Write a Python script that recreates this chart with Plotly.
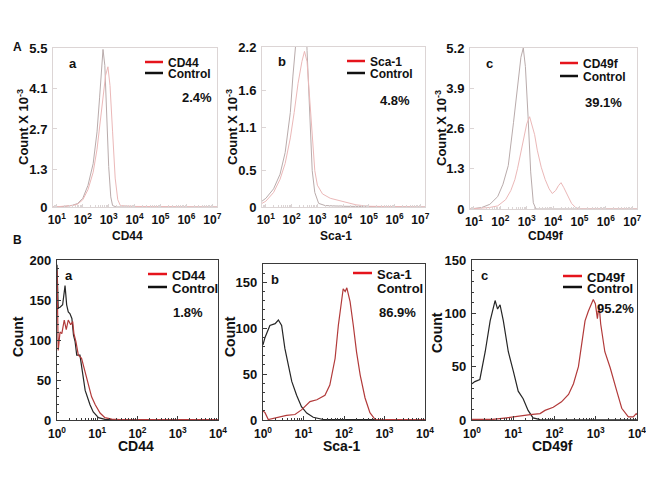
import plotly.graph_objects as go

# page is 654x485; the browser body adds an 8px margin, so the figure is drawn
# 8px in from the top-left and sized to fill the rest of the window
PAGE_OFF = 8
W, H = 654 - PAGE_OFF, 485 - PAGE_OFF

# ---------------- DATA (x as log10 of fluorescence, y as count) ----------------
# Row A (Count x 10^-3)
a1_ctrl_log = [0.85, 1.3, 1.6, 1.8, 2.0, 2.2, 2.4, 2.55, 2.65, 2.72, 2.78, 2.85, 2.92, 3.0, 3.08, 3.15, 3.3, 7.2]
a1_ctrl_cnt = [0, 0.02, 0.06, 0.12, 0.3, 0.75, 1.5, 2.6, 3.8, 4.8, 5.45, 4.9, 3.3, 1.4, 0.35, 0.05, 0, 0]
a1_samp_log = [0.85, 1.3, 1.6, 1.8, 2.0, 2.2, 2.4, 2.55, 2.67, 2.78, 2.88, 2.97, 3.05, 3.15, 3.25, 3.35, 3.45, 4.0, 7.2]
a1_samp_cnt = [0, 0.02, 0.05, 0.1, 0.25, 0.6, 1.2, 2.0, 3.0, 3.9, 4.55, 4.85, 4.2, 2.6, 1.0, 0.25, 0.05, 0.02, 0]

a2_ctrl_log = [0.85, 1.0, 1.3, 1.55, 1.75, 1.95, 2.05, 2.15, 2.3, 2.45, 2.52, 2.6, 2.7, 2.8, 2.9, 3.05, 3.3, 4.0, 7.2]
a2_ctrl_cnt = [0.08, 0.12, 0.25, 0.45, 0.75, 1.3, 1.8, 2.3, 2.8, 3.0, 2.9, 2.15, 1.2, 0.5, 0.2, 0.05, 0.02, 0.01, 0]
a2_samp_log = [0.85, 1.0, 1.3, 1.55, 1.75, 1.95, 2.1, 2.25, 2.4, 2.5, 2.6, 2.7, 2.8, 2.9, 3.0, 3.2, 3.5, 4.0, 4.5, 5.0, 7.2]
a2_samp_cnt = [0.05, 0.08, 0.2, 0.38, 0.6, 0.95, 1.3, 1.7, 2.0, 2.14, 2.0, 1.5, 0.9, 0.5, 0.3, 0.18, 0.12, 0.07, 0.03, 0.01, 0]

a3_ctrl_log = [0.85, 1.3, 1.6, 1.9, 2.1, 2.3, 2.5, 2.65, 2.78, 2.87, 2.95, 3.05, 3.15, 3.25, 3.35, 7.2]
a3_ctrl_cnt = [0, 0.05, 0.15, 0.4, 0.8, 1.4, 2.8, 4.0, 4.9, 5.2, 4.6, 3.0, 1.2, 0.2, 0, 0]
a3_samp_log = [0.85, 1.3, 1.6, 1.9, 2.2, 2.4, 2.55, 2.65, 2.8, 2.9, 3.0, 3.11, 3.2, 3.3, 3.4, 3.55, 3.7,
               3.85, 3.97, 4.1, 4.2, 4.3, 4.4, 4.55, 4.7, 4.85, 5.0, 7.2]
a3_samp_cnt = [0, 0.02, 0.05, 0.1, 0.3, 0.6, 0.95, 1.3, 1.9, 2.35, 2.75, 2.98, 2.7, 2.4, 1.9, 1.35, 0.95,
               0.65, 0.5, 0.6, 0.75, 0.85, 0.7, 0.42, 0.18, 0.05, 0.0, 0]

# Row B (Count)
b1_ctrl_log = [0, 0.03, 0.075, 0.14, 0.2, 0.24, 0.28, 0.32, 0.37, 0.41, 0.45, 0.49, 0.57, 0.65, 0.70,
               0.82, 0.90, 1.03, 1.19, 1.48, 2.0, 3.0, 4.0]
b1_ctrl_cnt = [194, 140, 141, 144, 168, 144, 135, 133, 127, 106, 98, 81, 81, 52, 37, 19, 10, 3, 0.8, 0.3,
               0.5, 0.4, 0.5]
b1_samp_log = [0, 0.03, 0.075, 0.12, 0.18, 0.23, 0.28, 0.34, 0.39, 0.42, 0.47, 0.53, 0.61, 0.70, 0.78,
               0.86, 0.95, 1.07, 1.19, 1.36, 1.57, 2.0, 3.0, 4.0]
b1_samp_cnt = [187, 87, 110, 108, 125, 113, 125, 119, 123, 108, 98, 81, 77, 60, 44, 29, 19, 8.7, 3, 1,
               0.5, 0.6, 0.5, 0.6]

b2_ctrl_log = [0, 0.05, 0.17, 0.3, 0.38, 0.46, 0.54, 0.63, 0.71, 0.83, 0.95, 1.08, 1.24, 1.49, 2.0, 3.0, 4.0]
b2_ctrl_cnt = [82, 90, 103, 105, 109, 103, 78, 60, 42, 27, 14.5, 7.6, 3, 0.5, 0.3, 0.3, 0.3]
b2_samp_log = [0, 0.05, 0.13, 0.34, 0.58, 0.79, 0.95, 1.16, 1.33, 1.53, 1.65, 1.78, 1.86, 1.98, 2.03, 2.07,
               2.15, 2.23, 2.31, 2.40, 2.52, 2.64, 2.77, 3.0, 3.5, 4.0]
b2_samp_cnt = [10, 8, 0.5, 3, 5, 6, 11, 20, 22, 27, 38, 67, 103, 143, 140, 144, 129, 103, 74, 49, 24, 8,
               0.5, 0.3, 0.3, 0.3]

b3_ctrl_log = [0, 0.07, 0.19, 0.32, 0.44, 0.56, 0.62, 0.68, 0.76, 0.88, 1.0, 1.12, 1.24, 1.36, 1.48, 1.65,
               2.0, 3.0, 4.0]
b3_ctrl_cnt = [34, 36, 38, 64, 93, 112, 104, 108, 93, 64, 46, 27, 20, 9, 2, 0.3, 0.2, 0.2, 0.2]
b3_samp_log = [0, 0.5, 0.84, 1.16, 1.41, 1.65, 1.77, 1.97, 2.17, 2.34, 2.46, 2.58, 2.66, 2.74, 2.82, 2.94,
               2.99, 3.04, 3.08, 3.12, 3.22, 3.35, 3.51, 3.63, 3.79, 3.91, 3.98, 4.0]
b3_samp_cnt = [0.5, 0.5, 2, 4, 5, 6, 9, 12, 17, 24, 34, 50, 71, 93, 102, 113, 109, 95, 108, 90, 64, 49,
               27, 11, 3, 3, 6, 5]

# Text content
markers_top = ["CD44", "Sca-1", "CD49f"]
pct_top = ["2.4%", "4.8%", "39.1%"]
pct_bot = ["1.8%", "86.9%", "95.2%"]
panel_letters = ["a", "b", "c"]
yticks_top = [[0, 1.3, 2.7, 4.1, 5.5], [0, 0.5, 1.1, 1.6, 2.2], [0, 1.3, 2.6, 3.9, 5.2]]
yticks_bot = [[0, 50, 100, 150, 200], [0, 50, 100, 150], [0, 50, 100, 150]]
top_exponents = [1, 2, 3, 4, 5, 6, 7]
bot_exponents = [0, 1, 2, 3, 4]

# ---------------- LAYOUT GEOMETRY (page pixels) ----------------
FONT = "Arial, Liberation Sans, sans-serif"
panels = [
    # (left, right, top, bottom, ymax, row, ytitle_x, ytitle_y)
    (53, 217, 48, 207, 5.5, "A", 23, 127),
    (262, 425, 47, 207, 2.2, "A", 232, 127),
    (470, 637, 48, 209, 5.2, "A", 441, 128),
    (57, 218, 260, 420, 200, "B", 18, 337),
    (263, 425, 264, 420, 170, "B", 230, 337),
    (472, 637, 260, 420, 150, "B", 437, 333),
]

def px(x):
    return (x - PAGE_OFF) / W

def py(y):
    return 1 - (y - PAGE_OFF) / H

def note(text, x, y, size, xanchor="center", angle=0):
    return dict(text=text, x=px(x), y=py(y), xref="paper", yref="paper", showarrow=False,
                xanchor=xanchor, yanchor="middle", textangle=angle,
                font=dict(family=FONT, size=size, color="#111"))

fig = go.Figure()

series = [
    (a1_ctrl_log, a1_ctrl_cnt, a1_samp_log, a1_samp_cnt),
    (a2_ctrl_log, a2_ctrl_cnt, a2_samp_log, a2_samp_cnt),
    (a3_ctrl_log, a3_ctrl_cnt, a3_samp_log, a3_samp_cnt),
    (b1_ctrl_log, b1_ctrl_cnt, b1_samp_log, b1_samp_cnt),
    (b2_ctrl_log, b2_ctrl_cnt, b2_samp_log, b2_samp_cnt),
    (b3_ctrl_log, b3_ctrl_cnt, b3_samp_log, b3_samp_cnt),
]

layout_axes = {}
annotations = []
shapes = []

for i, ((l, r, t, b, ymax, row, ytx, yty), (cl, cc, sl, sc)) in enumerate(zip(panels, series)):
    n = i + 1
    xa = "x" if n == 1 else f"x{n}"
    ya = "y" if n == 1 else f"y{n}"
    xkey = "xaxis" if n == 1 else f"xaxis{n}"
    ykey = "yaxis" if n == 1 else f"yaxis{n}"
    top = row == "A"
    if top:
        ctrl_color, samp_color, lw = "#b9abab", "#ebb8b8", 1
    else:
        ctrl_color, samp_color, lw = "#262626", "#b23a3a", 1.2
    fig.add_trace(go.Scatter(x=[10 ** v for v in cl], y=cc, mode="lines",
                             line=dict(color=ctrl_color, width=lw), xaxis=xa, yaxis=ya,
                             showlegend=False, hoverinfo="skip"))
    fig.add_trace(go.Scatter(x=[10 ** v for v in sl], y=sc, mode="lines",
                             line=dict(color=samp_color, width=lw), xaxis=xa, yaxis=ya,
                             showlegend=False, hoverinfo="skip"))

    exps = top_exponents if top else bot_exponents
    xrange = [0.85, 7.18] if top else [0, 4]
    minor_vals = [m * 10 ** k for k in range(exps[0] - 1, exps[-1] + 1) for m in range(2, 10)]
    axcol = "#dcd5d5" if top else "#3a3a3a"
    layout_axes[xkey] = dict(
        type="log", domain=[px(l), px(r)], range=xrange, anchor=ya, automargin=False,
        tickvals=[10 ** e for e in exps],
        ticktext=[f"10<sup>{e}</sup>" for e in exps],
        ticks="inside", ticklen=4 if not top else 3, tickcolor=axcol, tickwidth=1,
        minor=dict(ticks="inside", ticklen=2, tickcolor=axcol, tickvals=minor_vals),
        showline=True, linecolor=axcol, linewidth=1 if top else 1.3, mirror=True,
        showgrid=False, zeroline=False,
        tickfont=dict(family=FONT, size=12, color="#111", weight="bold"),
        ticklabelstandoff=2,
    )
    yax = dict(
        domain=[py(b), py(t)], range=[0, ymax], anchor=xa, automargin=False,
        tickvals=yticks_top[i] if top else yticks_bot[i - 3],
        ticks="inside", ticklen=4, tickcolor=axcol,
        showline=True, linecolor=axcol, linewidth=1 if top else 1.3, mirror=True,
        showgrid=False, zeroline=False,
        tickfont=dict(family=FONT, size=13, color="#111", weight="bold"),
        ticklabelstandoff=2,
    )
    if not top:
        yax["minor"] = dict(ticks="inside", ticklen=2, tickcolor=axcol, dtick=10)
    layout_axes[ykey] = yax

    name = markers_top[i % 3]
    annotations.append(note(f"<b>{name}</b>", (l + r) / 2 - (8 if top else 2),
                            236 if top else 446, 12 if top else 14))
    ytitle = "Count X 10<sup>-3</sup>" if top else "Count"
    annotations.append(note(f"<b>{ytitle}</b>", ytx, yty, 13 if top else 14, angle=-90))
    annotations.append(note(f"<b>{panel_letters[i % 3]}</b>", l + (20 if top else 12), t + 15, 13))

# legends (line swatches + labels) and percentages
leg_top = [  # (line_x0, line_x1, y_red, y_black, pct_x, pct_y)
    (145, 163, 62, 73, 197, 98),
    (347, 365, 61, 73, 395, 100),
    (560, 578, 63, 76, 603, 102),
]
leg_bot = [
    (148, 167, 274, 287, 188, 312),
    (353, 372, 273, 287, 397, 312),
    (563, 582, 276, 287, 615, 308),
]
for i, (x0, x1, yr, yb, pxx, pyy) in enumerate(leg_top + leg_bot):
    shapes.append(dict(type="line", xref="paper", yref="paper", x0=px(x0), x1=px(x1),
                       y0=py(yr), y1=py(yr), line=dict(color="#e5141c", width=2.5)))
    if i != 4:
        shapes.append(dict(type="line", xref="paper", yref="paper", x0=px(x0), x1=px(x1),
                           y0=py(yb), y1=py(yb), line=dict(color="#111", width=2.5)))
    fs = 12 if i < 3 else 13
    annotations.append(note(f"<b>{markers_top[i % 3]}</b>", x1 + 3, yr + 1, fs, xanchor="left"))
    annotations.append(note("<b>Control</b>", x1 + 3, yb + 1, fs, xanchor="left"))
    pct = (pct_top + pct_bot)[i]
    annotations.append(note(f"<b>{pct}</b>", pxx, pyy, 13))

# Row labels
annotations.append(note("<b>A</b>", 17, 47, 12))
annotations.append(note("<b>B</b>", 17, 240, 12))

fig.update_layout(
    width=W, height=H, margin=dict(l=0, r=0, t=0, b=0),
    paper_bgcolor="white", plot_bgcolor="white",
    annotations=annotations, shapes=shapes, showlegend=False,
    **layout_axes,
)

fig.write_html("out.html")
